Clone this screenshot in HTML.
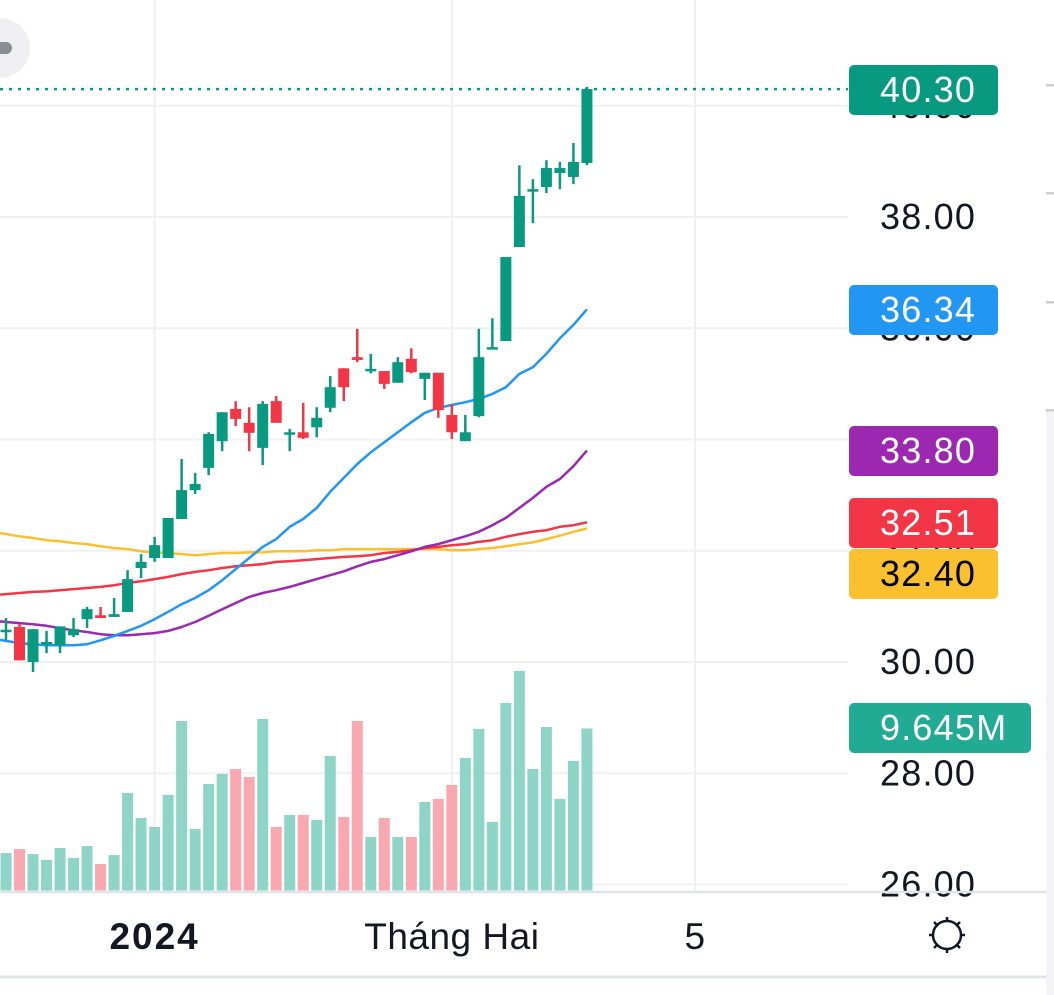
<!DOCTYPE html>
<html><head><meta charset="utf-8"><style>
html,body{margin:0;padding:0;background:#fff;}
body{width:1054px;height:995px;overflow:hidden;position:relative;font-family:"Liberation Sans",sans-serif;}
svg{position:absolute;left:0;top:0;}
</style></head><body>
<svg id="chart" width="1054" height="995" viewBox="0 0 1054 995"></svg>
<script>
const priceTicks=[40,38,36,34,32,30,28,26];
const timeLabels=["2024","Tháng Hai","5"];
const timeLabelIdx=[11,33,51];
const opens=[30.55,30.63,30.00,30.32,30.30,30.48,30.77,30.84,30.81,30.90,31.69,31.87,31.87,32.57,33.09,33.49,33.97,34.55,34.30,33.85,34.69,34.10,34.13,34.22,34.57,35.28,35.48,35.23,35.23,35.02,35.45,35.09,35.20,34.44,33.97,34.42,35.63,35.77,37.46,38.47,38.54,38.79,38.72,38.97];
const closes=[30.58,30.03,30.59,30.36,30.64,30.59,30.95,30.79,30.86,31.49,31.80,32.10,32.59,33.09,33.20,34.10,34.49,34.37,34.12,34.64,34.30,34.13,34.03,34.39,34.94,34.94,35.43,35.27,35.00,35.39,35.21,35.20,34.53,34.13,34.13,35.48,35.66,37.28,38.38,38.50,38.88,38.88,38.99,40.30];
const highs=[30.79,30.68,30.59,30.56,30.64,30.79,30.99,30.99,31.15,31.65,31.94,32.25,32.59,33.65,33.40,34.13,34.49,34.69,34.58,34.69,34.78,34.19,34.66,34.58,35.14,35.28,35.99,35.54,35.23,35.48,35.64,35.20,35.20,34.64,34.44,35.99,36.18,37.28,38.93,38.68,39.02,38.99,39.33,40.34];
const lows=[30.40,30.03,29.82,30.16,30.16,30.45,30.61,30.79,30.81,30.90,31.51,31.80,31.87,32.57,33.02,33.36,33.79,34.24,33.79,33.54,34.30,33.79,34.01,34.04,34.49,34.69,35.39,35.19,34.91,35.02,35.19,34.71,34.39,34.01,33.97,34.40,35.63,35.77,37.46,37.89,38.43,38.50,38.59,38.93];
const volumes=[2.23,2.47,2.17,1.82,2.53,1.94,2.65,1.58,2.11,5.81,4.32,3.78,5.69,10.09,3.66,6.34,6.94,7.23,6.76,10.21,3.78,4.50,4.50,4.20,8.01,4.38,10.09,3.19,4.32,3.19,3.19,5.27,5.45,6.28,7.89,9.62,4.08,11.16,13.07,7.23,9.73,5.45,7.71,9.645];
const maBlue=[30.38,30.34,30.32,30.30,30.30,30.30,30.32,30.39,30.47,30.56,30.65,30.77,30.90,31.04,31.15,31.29,31.47,31.67,31.87,32.07,32.21,32.43,32.57,32.77,33.06,33.31,33.56,33.77,33.95,34.13,34.31,34.48,34.57,34.62,34.67,34.73,34.82,34.94,35.18,35.30,35.54,35.82,36.06,36.34];
const maPurple=[30.72,30.70,30.68,30.65,30.61,30.57,30.54,30.50,30.48,30.48,30.50,30.52,30.56,30.63,30.72,30.83,30.95,31.06,31.17,31.24,31.29,31.35,31.42,31.49,31.56,31.63,31.72,31.80,31.85,31.92,31.99,32.07,32.12,32.19,32.26,32.34,32.46,32.59,32.77,32.95,33.15,33.29,33.52,33.80];
const maRed=[31.22,31.24,31.26,31.27,31.29,31.31,31.33,31.35,31.38,31.42,31.45,31.49,31.53,31.58,31.62,31.65,31.69,31.72,31.74,31.76,31.80,31.81,31.83,31.85,31.87,31.89,31.90,31.92,31.96,31.98,32.01,32.05,32.07,32.10,32.12,32.16,32.19,32.25,32.30,32.34,32.37,32.43,32.46,32.51];
const maYellow=[32.30,32.26,32.23,32.19,32.17,32.14,32.12,32.08,32.05,32.03,31.99,31.97,31.96,31.94,31.92,31.94,31.96,31.96,31.97,31.97,31.99,31.99,31.99,32.01,32.01,32.03,32.03,32.03,32.03,32.03,32.03,32.03,32.03,32.01,32.01,32.03,32.05,32.08,32.12,32.15,32.21,32.27,32.34,32.40];

const svg=document.getElementById('chart');
const NS='http://www.w3.org/2000/svg';
const UP='#089981',DN='#f23645';
function yP(p){return 217+(38-p)*55.625;}
function xI(i){return 6+i*13.51;}
function yV(v){return 890.5-v*16.8;}
function mk(tag,attrs,parent){const e=document.createElementNS(NS,tag);for(const k in attrs)e.setAttribute(k,attrs[k]);(parent||svg).appendChild(e);return e;}

const grid=mk('g',{});


priceTicks.forEach(p=>{mk('line',{x1:0,x2:848,y1:yP(p),y2:yP(p),stroke:'#f0f0f0','stroke-width':2},grid);});
timeLabelIdx.forEach(i=>{mk('line',{x1:xI(i),x2:xI(i),y1:0,y2:892,stroke:'#f0f0f0','stroke-width':2},grid);});

const vg=mk('g',{});


volumes.forEach((v,i)=>{
  const up=closes[i]>=opens[i];
  const r=mk('rect',{x:xI(i)-5.5,y:yV(v),width:11,height:890.5-yV(v),fill:up?'#8fd5c7':'#f9a8b0'},vg);
  
  
});

function line(arr,color,name){
  let d='M0 '+(yP(arr[0])+ (yP(arr[0])-yP(arr[1]))*0.45).toFixed(1)+' ';
  d+=arr.map((v,i)=>'L'+xI(i).toFixed(1)+' '+yP(v).toFixed(1)).join(' ');
  const p=mk('path',{d:d,fill:'none',stroke:color,'stroke-width':2.5,'stroke-linejoin':'round'});
  
  
}
line(maYellow,'#fbc02d','ma-yellow-line');
line(maRed,'#f23645','ma-red-line');
line(maPurple,'#9c27b0','ma-purple-line');
line(maBlue,'#2196f3','ma-blue-line');

const cg=mk('g',{});


opens.forEach((o,i)=>{
  const c=closes[i],up=c>=o,col=up?UP:DN,x=xI(i);
  const g=mk('g',{},cg);
  
  
  mk('line',{x1:x,x2:x,y1:yP(highs[i]),y2:yP(lows[i]),stroke:col,'stroke-width':2.5},g);
  const t=yP(Math.max(o,c)),b=yP(Math.min(o,c));
  mk('rect',{x:x-5.5,y:t,width:11,height:Math.max(b-t,2.5),fill:col},g);
});

const lp=mk('line',{x1:0,x2:848,y1:yP(closes[closes.length-1]),y2:yP(closes[closes.length-1]),stroke:UP,'stroke-width':2.5,'stroke-dasharray':'3 6'});



const ax=mk('g',{});


priceTicks.forEach(p=>{
  const t=mk('text',{x:880,y:yP(p)+12,'font-size':36,fill:'#131722','letter-spacing':'1.2'},ax);
  t.textContent=p.toFixed(2);
  
  
});
mk('rect',{x:1046,y:410,width:8,height:585,fill:'#f3f3f5'});
[85,193,302,410].forEach(y=>mk('rect',{x:1046,y:y-1,width:8,height:2.5,fill:'#cfcfd3'}));

function badge(val,color,txtColor,name,w,yc){
  const g=mk('g',{});
  
  
  mk('rect',{x:849,y:yc-25,width:w,height:50,rx:5,fill:color},g);
  const t=mk('text',{x:880,y:yc+12,'font-size':36,fill:txtColor,'letter-spacing':'1.2'},g);
  t.textContent=val;
}
badge(closes[closes.length-1].toFixed(2),'#089981','#fff','last-price-badge',149,90);
badge(maBlue[maBlue.length-1].toFixed(2),'#2196f3','#fff','ma-blue-badge',149,310);
badge(maPurple[maPurple.length-1].toFixed(2),'#9c27b0','#fff','ma-purple-badge',149,451);
badge(maRed[maRed.length-1].toFixed(2),'#f23645','#fff','ma-red-badge',149,523);
badge(maYellow[maYellow.length-1].toFixed(2),'#fbc02d','#000','ma-yellow-badge',149,574);
badge(volumes[volumes.length-1].toFixed(3)+'M','#22ab94','#fff','volume-badge',182,728);

mk('line',{x1:0,x2:1046,y1:892,y2:892,stroke:'#e0e3eb','stroke-width':2.5});
mk('line',{x1:0,x2:1046,y1:977,y2:977,stroke:'#e0e3eb','stroke-width':3});
const tg=mk('g',{});


timeLabels.forEach((l,i)=>{
  const t=mk('text',{x:xI(timeLabelIdx[i]),y:949,'font-size':37,'text-anchor':'middle',fill:'#131722','font-weight':i===0?'bold':'normal','letter-spacing':i===0?'2':'0.5'},tg);
  t.textContent=l;
  
  
});
const sg=mk('g',{stroke:'#131722','stroke-width':2.5,fill:'none'});


mk('circle',{cx:947,cy:935,r:14},sg);
[[947,917,947,922],[947,948,947,953],[929,935,934,935],[960,935,965,935],[934,922,938,926],[956,944,960,948],[960,922,956,926],[934,948,938,944]].forEach(a=>mk('line',{x1:a[0],y1:a[1],x2:a[2],y2:a[3]},sg));
const tb=mk('g',{});


mk('circle',{cx:0,cy:48,r:30,fill:'#efeff2'},tb);
mk('rect',{x:-10,y:42,width:22,height:12,rx:6,fill:'#8a8c96'},tb);
</script>
</body></html>
